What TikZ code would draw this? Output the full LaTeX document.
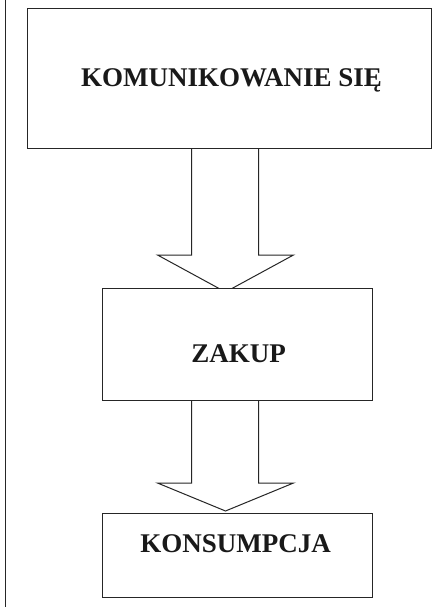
\documentclass[tikz,border=0pt]{standalone}
\usepackage{fontspec}
\setmainfont{Liberation Serif}
\pgfdeclarelayer{background}
\pgfsetlayers{background,main}
\begin{document}
\begin{tikzpicture}[x=1pt,y=-1pt,
  box/.style={draw=black!85,line width=1pt,fill=white,inner sep=0pt},
  lbl/.style={font=\fontsize{27}{30}\selectfont\bfseries,text=black!90,inner sep=0pt},
  blockarrow/.style={draw=black!85,line width=1pt,fill=white,line join=miter}]
\clip (0,0) rectangle (432,609);
\useasboundingbox (0,0) rectangle (432,609);
% left margin line
\coordinate (lt) at (5,0);
\coordinate (lb) at (5,607);
\draw[line width=1pt,black!85] (lt) -- (lb);
% boxes
\node[box,minimum width=404pt,minimum height=140pt,anchor=north west] (kom) at (27,8) {};
\node[lbl] (komt) at ([xshift=2pt,yshift=-2pt]kom.center) {KOMUNIKOWANIE SIĘ};
\node[box,minimum width=270pt,minimum height=112pt,anchor=north west] (zak) at (102,288) {};
\node[lbl] (zakt) at ([xshift=1pt,yshift=-9pt]zak.center) {ZAKUP};
\node[box,minimum width=270pt,minimum height=84pt,anchor=north west] (kon) at (102,513) {};
\node[lbl] (kont) at ([xshift=-2pt,yshift=12pt]kon.center) {KONSUMPCJA};
\begin{pgfonlayer}{background}
% arrow 1
\draw[blockarrow] ([xshift=-38pt]kom.south) -- ([xshift=-46pt,yshift=33pt]zak.north)
  -- ([xshift=-80pt,yshift=33pt]zak.north) -- ([xshift=-12pt,yshift=-4pt]zak.north)
  -- ([xshift=56pt,yshift=33pt]zak.north) -- ([xshift=21pt,yshift=33pt]zak.north)
  -- ([xshift=29pt]kom.south);
% arrow 2
\draw[blockarrow] ([xshift=-46pt]zak.south) -- ([xshift=-46pt,yshift=30pt]kon.north)
  -- ([xshift=-80pt,yshift=30pt]kon.north) -- ([xshift=-12pt,yshift=2pt]kon.north)
  -- ([xshift=56pt,yshift=30pt]kon.north) -- ([xshift=21pt,yshift=30pt]kon.north)
  -- ([xshift=21pt]zak.south);
\end{pgfonlayer}
\end{tikzpicture}
\end{document}
